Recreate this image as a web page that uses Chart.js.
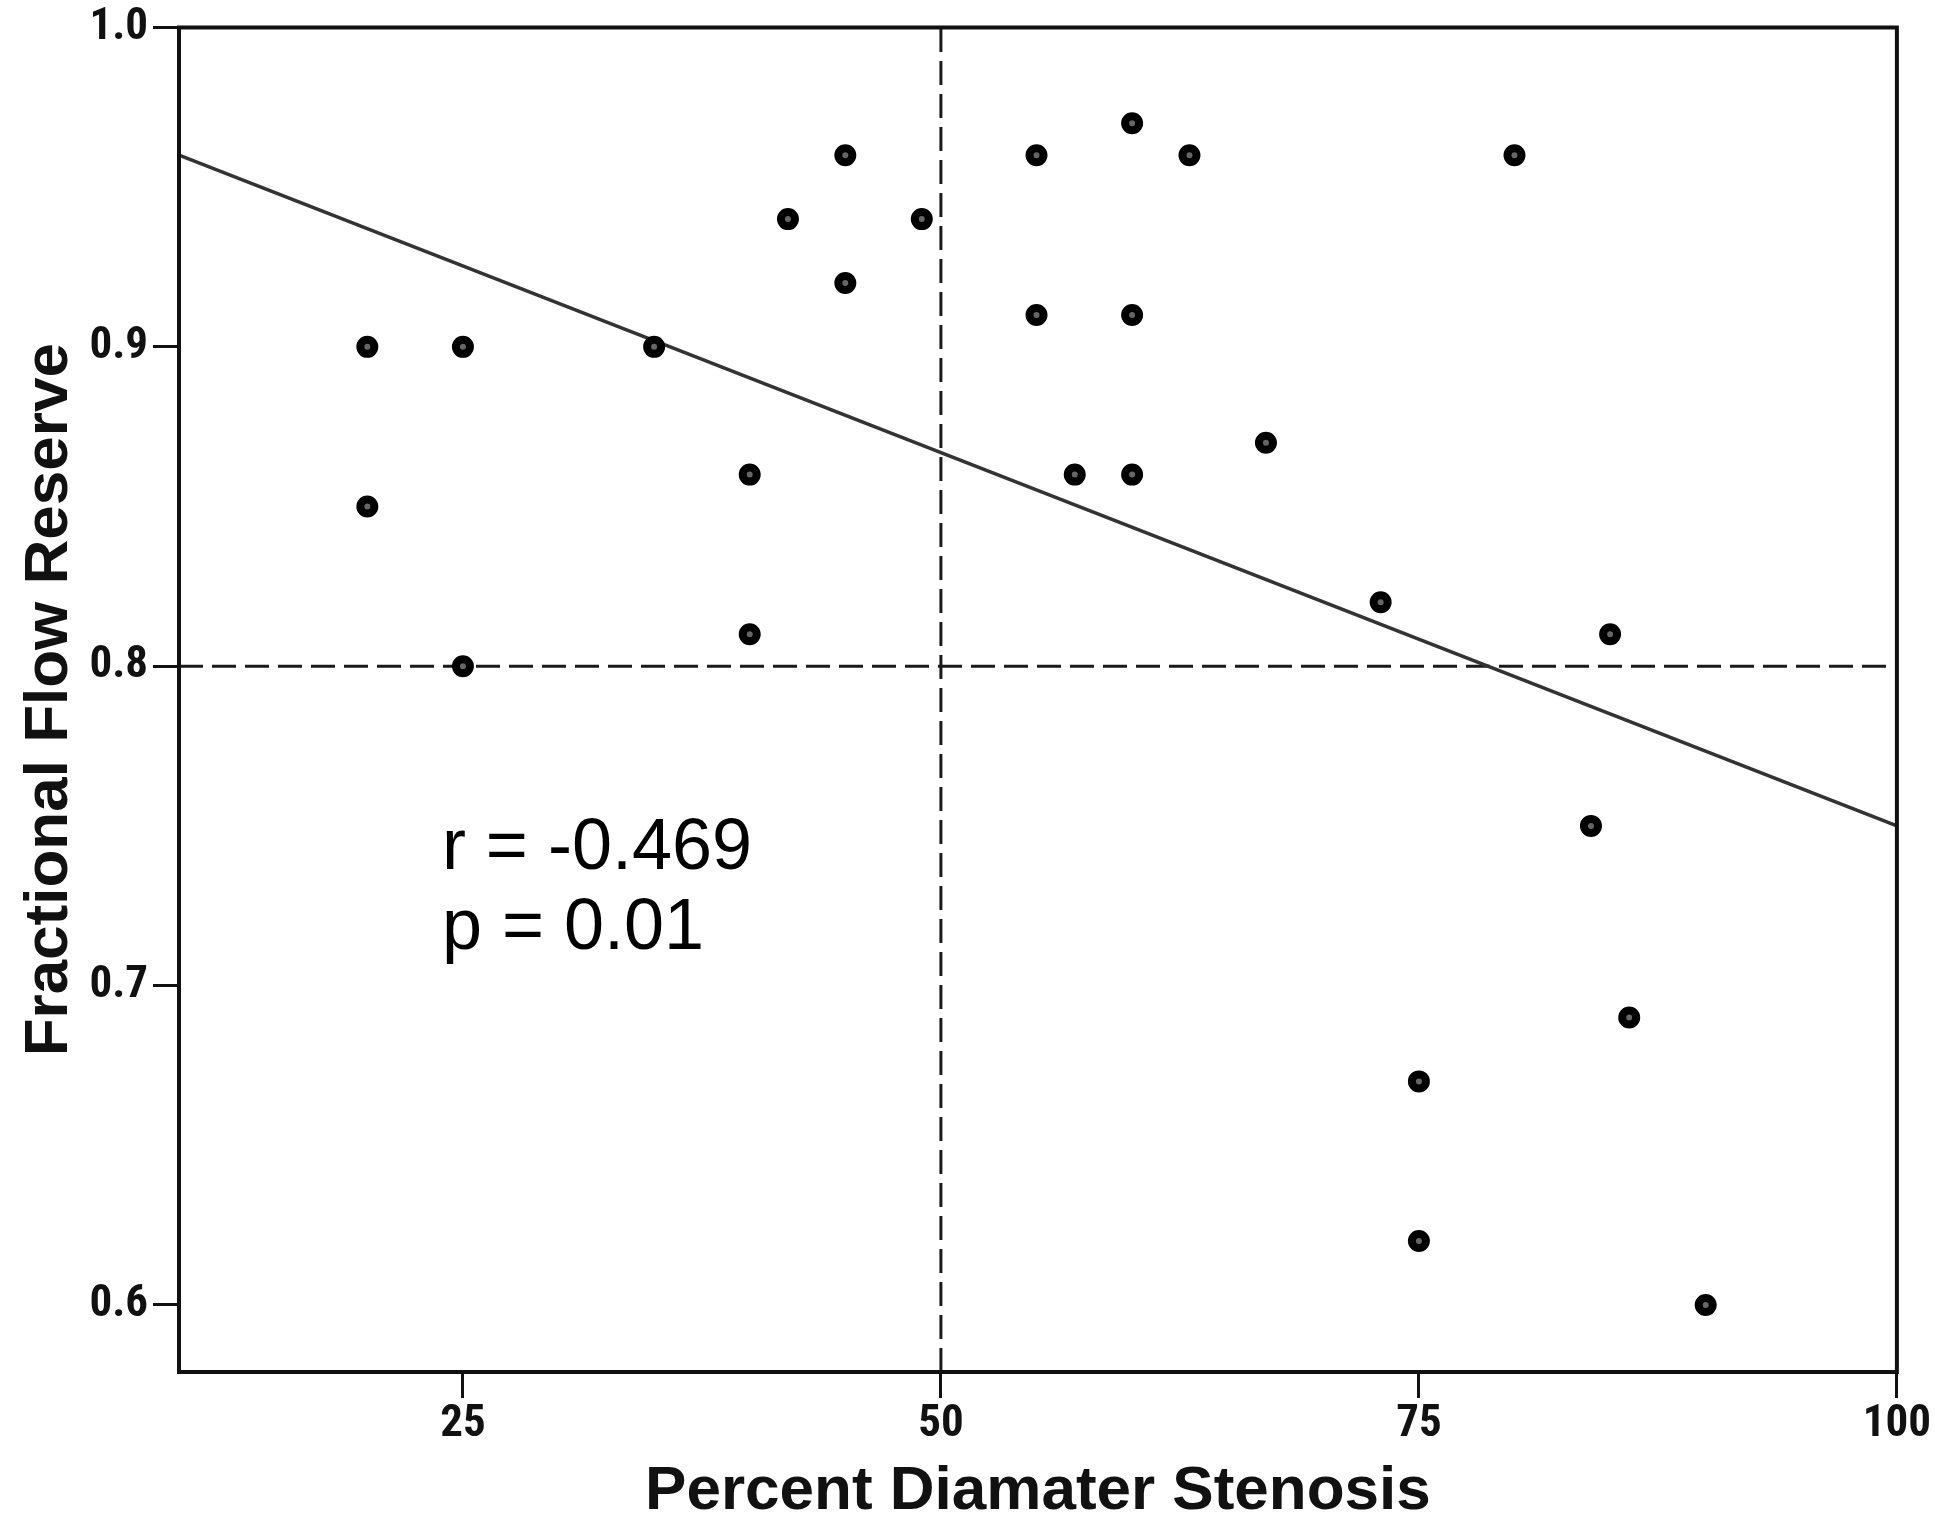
<!DOCTYPE html>
<html>
<head>
<meta charset="utf-8">
<script src="https://cdn.jsdelivr.net/npm/chart.js@4/dist/chart.umd.min.js"></script>
<style>
  body { margin: 0; background: #fff; }
  #wrap { width: 1935px; height: 1523px; }
</style>
</head>
<body>
<div id="wrap"><canvas id="ffr-chart" width="1935" height="1523"></canvas></div>
<script>
// DATA
const stenosis = [20, 20, 25, 25, 35, 40, 40, 42, 45, 45, 49, 55, 55, 57, 60, 60, 60, 63, 67, 73, 80, 85, 84, 86, 75, 75, 90];
const ffr = [0.90, 0.85, 0.90, 0.80, 0.90, 0.86, 0.81, 0.94, 0.96, 0.92, 0.94, 0.96, 0.91, 0.86, 0.97, 0.91, 0.86, 0.96, 0.87, 0.82, 0.96, 0.81, 0.75, 0.69, 0.67, 0.62, 0.60];

// fit line end points
const fitX = [10.15, 100];
const fitY = [0.96, 0.75];

// cut-off lines
const cutStenosis = 50;
const cutFfr = 0.8;

// axes
const xTicks = [25, 50, 75, 100];
const yTicks = [0.6, 0.7, 0.8, 0.9, 1.0];
const xMin = 10.15, xMax = 100;
const yMin = 0.579, yMax = 1.0;

// stats text, placed in data units
const statsText = ["r = -0.469", "p = 0.01"];
const statsX = [23.9, 23.9];
const statsY = [0.7365, 0.7115];

const points = stenosis.map((s, i) => ({x: s, y: ffr[i]}));
const fitLine = fitX.map((x, i) => ({x: x, y: fitY[i]}));

const tickFont = {family: "'Roboto Condensed', 'Liberation Sans', sans-serif", size: 45, weight: "bold", lineHeight: 1};
const titleFont = {family: "'Liberation Sans', Arial, sans-serif", size: 62, weight: "bold", lineHeight: 1};

// box round the plot + stats text
const extras = {
  id: "extras",
  afterDraw(chart) {
    const ctx = chart.ctx;
    const a = chart.chartArea;
    const xs = chart.scales.x, ys = chart.scales.y;
    ctx.save();
    ctx.strokeStyle = "#111";
    ctx.lineWidth = 4;
    ctx.strokeRect(a.left, a.top, a.right - a.left, a.bottom - a.top);
    ctx.fillStyle = "#000";
    ctx.font = "72px 'Liberation Sans', Arial, sans-serif";
    ctx.textBaseline = "alphabetic";
    ctx.textAlign = "left";
    for (let i = 0; i < statsText.length; i++) {
      ctx.fillText(statsText[i], xs.getPixelForValue(statsX[i]), ys.getPixelForValue(statsY[i]));
    }
    ctx.restore();
  }
};

let chart = new Chart(document.getElementById("ffr-chart"), {
  type: "scatter",
  data: {
    datasets: [
      {
        data: points,
        pointRadius: 7,
        pointBorderWidth: 8,
        pointBorderColor: "#000",
        pointBackgroundColor: "#666",
        pointHoverRadius: 7
      },
      {
        type: "line",
        data: fitLine,
        borderColor: "#333",
        borderWidth: 3.5,
        pointRadius: 0,
        fill: false
      },
      {
        type: "line",
        data: [{x: cutStenosis, y: yMin}, {x: cutStenosis, y: yMax}],
        borderColor: "#1a1a1a",
        borderWidth: 3,
        borderDash: [24, 9],
        pointRadius: 0,
        fill: false
      },
      {
        type: "line",
        data: [{x: xMin, y: cutFfr}, {x: xMax, y: cutFfr}],
        borderColor: "#1a1a1a",
        borderWidth: 3,
        borderDash: [24, 9],
        pointRadius: 0,
        fill: false
      }
    ]
  },
  options: {
    responsive: false,
    animation: false,
    events: [],
    layout: {
      padding: {left: 0, top: 25, right: 38, bottom: 0}
    },
    plugins: {
      legend: {display: false},
      tooltip: {enabled: false}
    },
    scales: {
      x: {
        type: "linear",
        min: xMin,
        max: xMax,
        afterBuildTicks: (s) => { s.ticks = xTicks.map(v => ({value: v})); },
        afterFit: (s) => { s.height = 151; },
        grid: {drawOnChartArea: false, drawTicks: true, tickLength: 26, tickWidth: 3, tickColor: "#111"},
        border: {display: true, color: "#111", width: 4},
        ticks: {color: "#111", font: tickFont, padding: 4, maxRotation: 0},
        title: {display: true, text: "Percent Diamater Stenosis", color: "#111", font: titleFont, padding: {top: 0, bottom: 0}}
      },
      y: {
        type: "linear",
        min: yMin,
        max: yMax,
        afterBuildTicks: (s) => { s.ticks = yTicks.map(v => ({value: v})); },
        afterFit: (s) => { s.width = 179; },
        grid: {drawOnChartArea: false, drawTicks: true, tickLength: 26, tickWidth: 3, tickColor: "#111"},
        border: {display: true, color: "#111", width: 4},
        ticks: {color: "#111", font: tickFont, padding: 5, callback: (v) => Number(v).toFixed(1)},
        title: {display: true, text: "Fractional Flow Reserve", color: "#111", font: titleFont, padding: {top: 19, bottom: 0}}
      }
    }
  },
  plugins: [extras]
});
</script>
</body>
</html>
